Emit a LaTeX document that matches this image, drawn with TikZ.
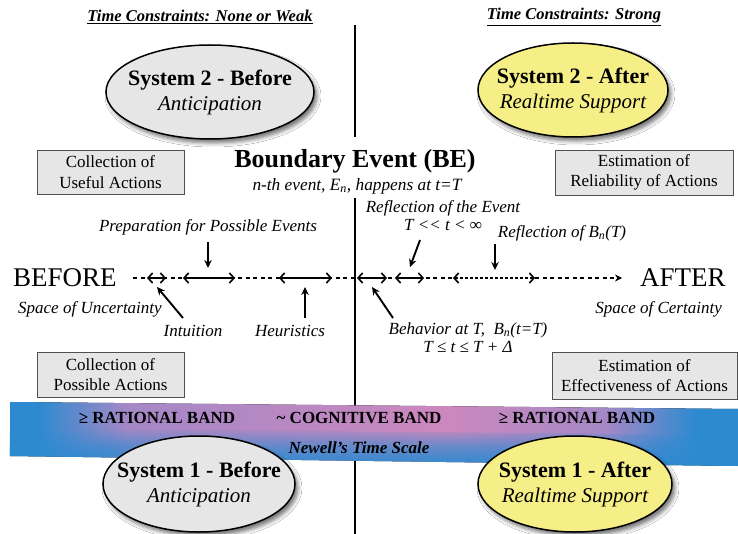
\documentclass[tikz,border=0pt]{standalone}
\usepackage{fontspec}
\setmainfont{Liberation Serif}
\usetikzlibrary{shapes.geometric,arrows.meta,shadows.blur,fadings}
\definecolor{ellgray}{HTML}{E6E6E6}
\definecolor{ellyellow}{HTML}{F6EE86}
\definecolor{boxgray}{HTML}{E6E6E6}
\definecolor{boxborder}{HTML}{505050}
\definecolor{bandblue}{HTML}{2E8AD0}
\definecolor{bandpurple}{HTML}{A488C6}
\definecolor{bandpink}{HTML}{CC88BE}
\newcommand\fsz[2]{\fontsize{#1}{#2}\selectfont}
\pgfdeclarehorizontalshading{bandshade}{100bp}{color(0bp)=(bandblue); color(25bp)=(bandblue); color(27bp)=(bandblue); color(33bp)=(bandpurple); color(55bp)=(bandpink); color(66bp)=(bandpurple); color(72bp)=(bandblue); color(75bp)=(bandblue); color(100bp)=(bandblue)}
\tikzfading[name=bandfade, top color=transparent!100, bottom color=transparent!0, middle color=transparent!35]
\begin{document}
\begin{tikzpicture}[x=1pt,y=-1pt,
  hdr/.style={font=\fsz{16.5}{19}\bfseries\itshape, inner sep=0},
  divider/.style={line width=1.8pt, black},
  ell/.style={ellipse, draw=black, line width=1.5pt, inner sep=0,
    blur shadow={shadow xshift=3pt, shadow yshift=-4pt, shadow blur radius=4pt, shadow opacity=55}},
  elltext/.style={align=center, inner sep=0, font=\fsz{22}{25}},
  box/.style={draw=boxborder, line width=0.9pt, fill=boxgray, align=center, font=\fsz{17}{20.5}, inner sep=0},
  lbl/.style={font=\fsz{17}{17}\itshape, inner sep=0},
  dashline/.style={line width=1.5pt, dash pattern=on 4pt off 3.5pt},
  dbl/.style={line width=1.6pt, {Straight Barb[length=4.5pt,width=10pt]}-{Straight Barb[length=4.5pt,width=10pt]}},
  ptr/.style={line width=1.9pt, -{Stealth[length=8pt,width=7.5pt]}},
  bandtxt/.style={font=\fsz{17}{19}\bfseries, inner sep=0},
]
\useasboundingbox (0,0) rectangle (738,534);
\fill[white] (0,0) rectangle (738,534);

% headers
\node[hdr] (hl) at (200,17) {\underline{Time Constraints: None or Weak}};
\node[hdr] (hr) at (574,17) {\underline{Time Constraints: Strong}};

% divider
\coordinate (d1) at (355,25);
\coordinate (d2) at (355,137);
\coordinate (d3) at (355,198);
\coordinate (d4) at (355,534);
\draw[divider] (d1) -- (d2);
\draw[divider] (d3) -- (d4);

% System 2 ellipses
\node[ell, fill=ellgray, minimum width=208, minimum height=94] (s2b) at (210,92) {};
\node[elltext] (s2bt) at (s2b.center) {\textbf{System 2 - Before}\\{\fsz{21}{25}\itshape Anticipation}};
\node[ell, fill=ellyellow, minimum width=190, minimum height=94] (s2a) at (573,90) {};
\node[elltext] (s2at) at (s2a.center) {\textbf{System 2 - After}\\{\fsz{21}{25}\itshape Realtime Support}};

% boxes
\node[box, minimum width=147, minimum height=44] (cu) at (110.5,172) {Collection of\\Useful Actions};
\node[box, minimum width=178, minimum height=45] (er) at (644,172.5) {Estimation of\\Reliability of Actions};
\node[box, minimum width=147, minimum height=45] (cp) at (110.5,374.5) {Collection of\\Possible Actions};
\node[box, minimum width=185, minimum height=47] (ee) at (644.5,375.5) {Estimation of\\Effectiveness of Actions};

% boundary event
\node[font=\fsz{26}{30}\bfseries, inner sep=0] (be) at (355,161) {Boundary Event (BE)};
\node[font=\fsz{17.3}{18}\itshape, inner sep=0] (ne) at (357,186) {n-th event, E\textsubscript{n}, happens at t=T};

% timeline ends
\node[font=\fsz{27}{30}, anchor=west, inner sep=0] (before) at (13,278) {BEFORE};
\node[font=\fsz{27}{30}, anchor=west, inner sep=0] (after) at (640,278) {AFTER};
\node[lbl, anchor=west] (su) at (18,309) {Space of Uncertainty};
\node[lbl, anchor=east] (sc) at (722,309) {Space of Certainty};

% timeline coordinates
\coordinate (t0) at (133,278);
\coordinate (a1l) at (147,278);
\coordinate (a1r) at (166,278);
\coordinate (a2l) at (183,278);
\coordinate (a2r) at (235,278);
\coordinate (a3l) at (279,278);
\coordinate (a3r) at (332,278);
\coordinate (a4l) at (357,278);
\coordinate (a4r) at (387,278);
\coordinate (a5l) at (395,278);
\coordinate (a5r) at (424,278);
\coordinate (a6l) at (453,278);
\coordinate (a6r) at (535,278);
\coordinate (tend) at (622,278);

\draw[dashline] (t0) -- (a6l);
\draw[dbl] (a1l) -- (a1r);
\draw[dbl] (a2l) -- (a2r);
\draw[dbl] (a3l) -- (a3r);
\draw[dbl] (a4l) -- (a4r);
\draw[dbl] (a5l) -- (a5r);
\draw[dbl, dash pattern=on 3pt off 2pt] (a6l) -- (a6r);
\draw[dashline, -{Stealth[length=7pt,width=7pt]}] (a6r) -- (tend);

% pointer labels and arrows
\node[lbl] (prep) at (208,227) {Preparation for Possible Events};
\coordinate (prepA) at (208,242);
\coordinate (prepB) at (208,268);
\draw[ptr] (prepA) -- (prepB);

\node[lbl] (intu) at (193,331) {Intuition};
\coordinate (intuA) at (183,318);
\coordinate (intuB) at (157,287);
\draw[ptr] (intuA) -- (intuB);

\node[lbl] (heur) at (290,331) {Heuristics};
\coordinate (heurA) at (305,318);
\coordinate (heurB) at (305,287);
\draw[ptr] (heurA) -- (heurB);

\node[lbl] (beh1) at (468,330) {Behavior at T,\ \ B\textsubscript{n}(t=T)};
\node[lbl] (beh2) at (468,347) {T ≤ t ≤ T + Δ};
\coordinate (behA) at (393,318);
\coordinate (behB) at (372,287);
\draw[ptr] (behA) -- (behB);

\node[lbl] (refe) at (443,208) {Reflection of the Event};
\node[lbl] (refi) at (443,225) {T <{}< t < ∞};
\coordinate (refeA) at (420,240);
\coordinate (refeB) at (410,267);
\draw[ptr] (refeA) -- (refeB);

\node[lbl] (refb) at (562,233) {Reflection of B\textsubscript{n}(T)};
\coordinate (refbA) at (495,244);
\coordinate (refbB) at (495,270);
\draw[ptr] (refbA) -- (refbB);

% band
\coordinate (b1) at (10,402);
\coordinate (b2) at (738,409);
\coordinate (b3) at (738,466);
\coordinate (b4) at (10,456);
\coordinate (m1) at (10,428);
\coordinate (m2) at (738,435);
\fill[shading=bandshade] (b1) -- (b2) -- (b3) -- (b4) -- cycle;
\fill[bandblue, path fading=bandfade] (m1) -- (m2) -- (b3) -- (b4) -- cycle;
\node[bandtxt] (r1) at (157,418) {≥ RATIONAL BAND};
\node[bandtxt] (cg) at (359,418) {\textasciitilde{} COGNITIVE BAND};
\node[bandtxt] (r2) at (577,418) {≥ RATIONAL BAND};
\node[bandtxt, font=\fsz{17}{19}\bfseries\itshape] (nw) at (359,448) {Newell’s Time Scale};

% System 1 ellipses
\node[ell, fill=ellgray, minimum width=192, minimum height=96] (s1b) at (199,484) {};
\node[elltext] (s1bt) at (s1b.center) {\textbf{System 1 - Before}\\{\fsz{21}{25}\itshape Anticipation}};
\node[ell, fill=ellyellow, minimum width=194, minimum height=96] (s1a) at (575,484) {};
\node[elltext] (s1at) at (s1a.center) {\textbf{System 1 - After}\\{\fsz{21}{25}\itshape Realtime Support}};
\end{tikzpicture}
\end{document}
